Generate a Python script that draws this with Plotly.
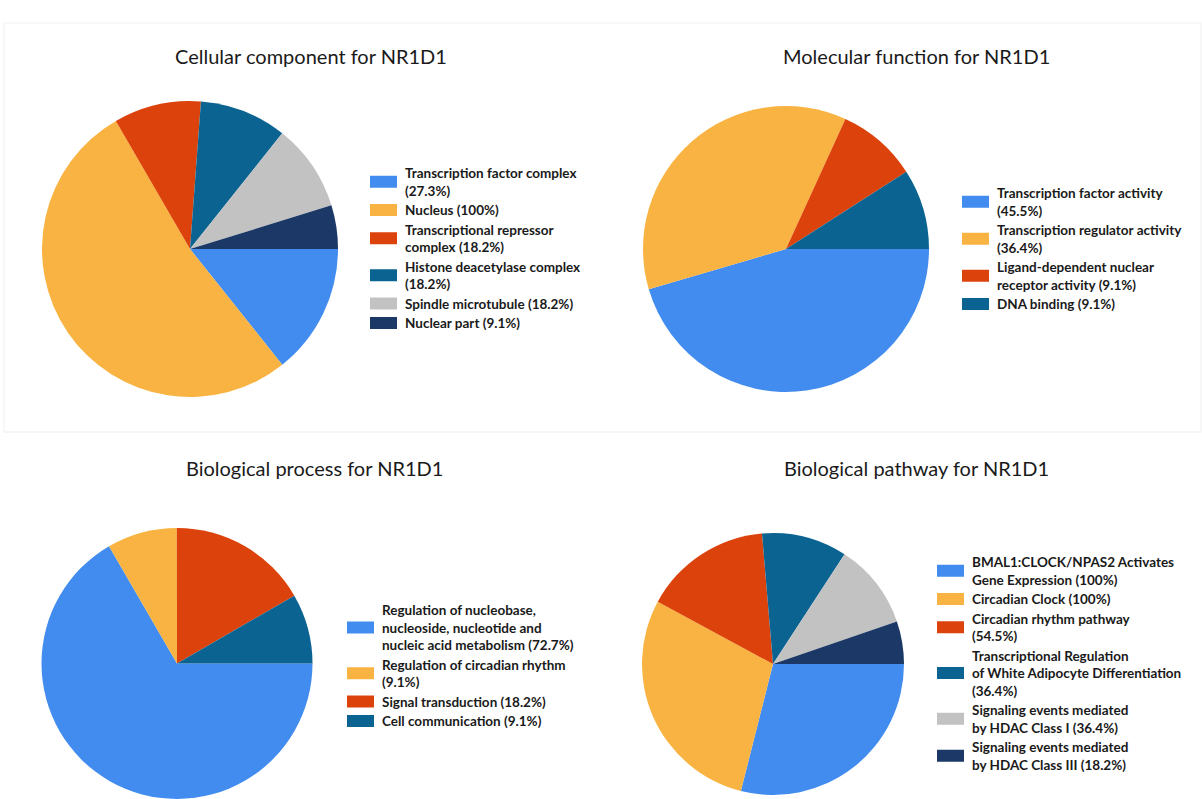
import plotly.graph_objects as go

W, H = 1202, 799

# ---- data -------------------------------------------------------------
cc_labels = ["Transcription factor complex", "Nucleus", "Transcriptional repressor complex",
             "Histone deacetylase complex", "Spindle microtubule", "Nuclear part"]
cc_values = [27.3, 100, 18.2, 18.2, 18.2, 9.1]
cc_legend = ["Transcription factor complex<br>(27.3%)", "Nucleus (100%)",
             "Transcriptional repressor<br>complex (18.2%)", "Histone deacetylase complex<br>(18.2%)",
             "Spindle microtubule (18.2%)", "Nuclear part (9.1%)"]

mf_labels = ["Transcription factor activity", "Transcription regulator activity",
             "Ligand-dependent nuclear receptor activity", "DNA binding"]
mf_values = [45.5, 36.4, 9.1, 9.1]
mf_legend = ["Transcription factor activity<br>(45.5%)", "Transcription regulator activity<br>(36.4%)",
             "Ligand-dependent nuclear<br>receptor activity (9.1%)", "DNA binding (9.1%)"]

bp_labels = ["Regulation of nucleobase, nucleoside, nucleotide and nucleic acid metabolism",
             "Regulation of circadian rhythm", "Signal transduction", "Cell communication"]
bp_values = [72.7, 9.1, 18.2, 9.1]
bp_legend = ["Regulation of nucleobase,<br>nucleoside, nucleotide and<br>nucleic acid metabolism (72.7%)",
             "Regulation of circadian rhythm<br>(9.1%)", "Signal transduction (18.2%)",
             "Cell communication (9.1%)"]

pw_labels = ["BMAL1:CLOCK/NPAS2 Activates Gene Expression", "Circadian Clock",
             "Circadian rhythm pathway", "Transcriptional Regulation of White Adipocyte Differentiation",
             "Signaling events mediated by HDAC Class I", "Signaling events mediated by HDAC Class III"]
pw_values = [100, 100, 54.5, 36.4, 36.4, 18.2]
pw_legend = ["BMAL1:CLOCK/NPAS2 Activates<br>Gene Expression (100%)", "Circadian Clock (100%)",
             "Circadian rhythm pathway<br>(54.5%)",
             "Transcriptional Regulation<br>of White Adipocyte Differentiation<br>(36.4%)",
             "Signaling events mediated<br>by HDAC Class I (36.4%)",
             "Signaling events mediated<br>by HDAC Class III (18.2%)"]

titles = ["Cellular component for NR1D1", "Molecular function for NR1D1",
          "Biological process for NR1D1", "Biological pathway for NR1D1"]

palette = ["#418cee", "#f9b342", "#dc420b", "#0b6391", "#c2c2c2", "#1b3866"]

# ---- layout of each panel (pixel geometry) ----------------------------
panels = [
    dict(labels=cc_labels, values=cc_values, legend=cc_legend, title=titles[0],
         cx=190, cy=249, r=148, title_x=311, title_y=56, leg_x=370, leg_y=173),
    dict(labels=mf_labels, values=mf_values, legend=mf_legend, title=titles[1],
         cx=786, cy=249, r=143, title_x=916, title_y=56, leg_x=962, leg_y=193),
    dict(labels=bp_labels, values=bp_values, legend=bp_legend, title=titles[2],
         cx=177, cy=664, r=136, title_x=314, title_y=468, leg_x=347, leg_y=610),
    dict(labels=pw_labels, values=pw_values, legend=pw_legend, title=titles[3],
         cx=773, cy=664, r=131, title_x=916, title_y=468, leg_x=937, leg_y=562),
]

FONT = "Lato, 'Open Sans', sans-serif"
LINE_STEP = 17.5
ENTRY_GAP = 19.5


def px_x(x):
    return x / W


def px_y(y):
    return 1 - y / H


fig = go.Figure()
shapes = []
annotations = []

# faint panel frame
shapes.append(dict(type="rect", xref="paper", yref="paper",
                   x0=px_x(4), x1=px_x(1201), y0=px_y(432), y1=px_y(23),
                   line=dict(color="#f5f5f5", width=1.5), fillcolor="rgba(0,0,0,0)", layer="below"))

for p in panels:
    x0, x1 = p["cx"] - p["r"], p["cx"] + p["r"]
    y_top, y_bot = p["cy"] - p["r"], min(p["cy"] + p["r"], H)
    fig.add_trace(go.Pie(
        labels=p["labels"], values=p["values"],
        marker=dict(colors=palette[:len(p["values"])], line=dict(width=0)),
        sort=False, direction="clockwise", rotation=90,
        textinfo="none", hoverinfo="label+value",
        domain=dict(x=[px_x(x0), px_x(x1)], y=[px_y(y_bot), px_y(y_top)]),
        showlegend=False,
    ))

    annotations.append(dict(text=p["title"], x=px_x(p["title_x"]), y=px_y(p["title_y"]),
                            xref="paper", yref="paper", xanchor="center", yanchor="middle",
                            showarrow=False, font=dict(family=FONT, size=20, color="#1a1a1a")))

    # legend: colour swatch + wrapped label, one annotation per line
    y = p["leg_y"]
    for i, lab in enumerate(p["legend"]):
        lines = lab.split("<br>")
        ys = [y + k * LINE_STEP for k in range(len(lines))]
        for ly, txt in zip(ys, lines):
            annotations.append(dict(text="<b>" + txt + "</b>", x=px_x(p["leg_x"] + 33), y=px_y(ly),
                                    xref="paper", yref="paper", xanchor="left", yanchor="middle",
                                    showarrow=False,
                                    font=dict(family=FONT, size=13.5, color="#1a1a1a")))
        mid = sum(ys) / len(ys)
        shapes.append(dict(type="rect", xref="paper", yref="paper",
                           x0=px_x(p["leg_x"]), x1=px_x(p["leg_x"] + 27),
                           y0=px_y(mid + 6), y1=px_y(mid - 6),
                           fillcolor=palette[i], line=dict(width=0)))
        y = ys[-1] + ENTRY_GAP

fig.update_layout(width=W, height=H, margin=dict(l=0, r=0, t=0, b=0),
                  paper_bgcolor="white", plot_bgcolor="white",
                  shapes=shapes, annotations=annotations, showlegend=False)

fig.write_html("out.html")
